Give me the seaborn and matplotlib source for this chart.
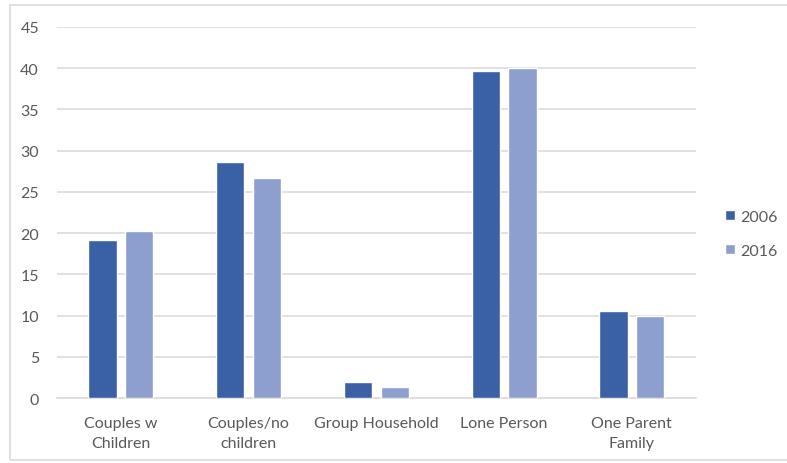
import pandas as pd
import seaborn as sns
import matplotlib.pyplot as plt
from matplotlib.patches import Rectangle

# 数据
categories = ["Couples w\nChildren", "Couples/no\nchildren", "Group Household",
              "Lone Person", "One Parent\nFamily"]
years = ["2006", "2016"]
values_2006 = [19.1, 28.6, 2.0, 39.6, 10.5]
values_2016 = [20.3, 26.7, 1.3, 40.0, 9.9]

df = pd.DataFrame({
    "category": categories * 2,
    "year": [years[0]] * 5 + [years[1]] * 5,
    "value": values_2006 + values_2016,
})

sns.set_theme(style="white")
plt.rcParams['font.family'] = ['Lato', 'DejaVu Sans']

fig = plt.figure(figsize=(7.87, 4.64), dpi=100)
ax = fig.add_axes([0.0724, 0.140, 0.8116, 0.800])

palette = {"2006": "#3A60A5", "2016": "#8D9FCE"}
sns.barplot(data=df, x="category", y="value", hue="year", palette=palette,
            width=0.576, gap=0.23, saturation=1, ax=ax, zorder=3)

ax.set_ylim(0, 45)
ax.set_yticks(range(0, 46, 5))
ax.set_xlim(-0.5, 4.5)
ax.yaxis.grid(True, color="#D9D9D9", linewidth=1.1, zorder=0)
ax.set_axisbelow(True)
for side in ["top", "right", "left"]:
    ax.spines[side].set_visible(False)
ax.spines["bottom"].set_color("#D9D9D9")
ax.spines["bottom"].set_linewidth(1.1)
ax.set_xlabel("")
ax.set_ylabel("")
ax.tick_params(axis="both", length=0, colors="#595959", labelsize=11.5)
ax.tick_params(axis="y", pad=13)
ax.tick_params(axis="x", pad=13)
for lbl in ax.get_xticklabels():
    lbl.set_linespacing(1.5)

# 图例
ax.legend(loc="center left", bbox_to_anchor=(1.024, 0.443), frameon=False,
          fontsize=11.5, handlelength=0.6, handleheight=0.6,
          handletextpad=0.35, labelspacing=1.25, labelcolor="#595959")

# 外框
fig.patches.append(Rectangle((10 / 787, 3 / 464), 1.0, 1 - 9 / 464,
                             transform=fig.transFigure, fill=False,
                             edgecolor="#D9D9D9", linewidth=1.2))

plt.savefig("out.png", dpi=100)
